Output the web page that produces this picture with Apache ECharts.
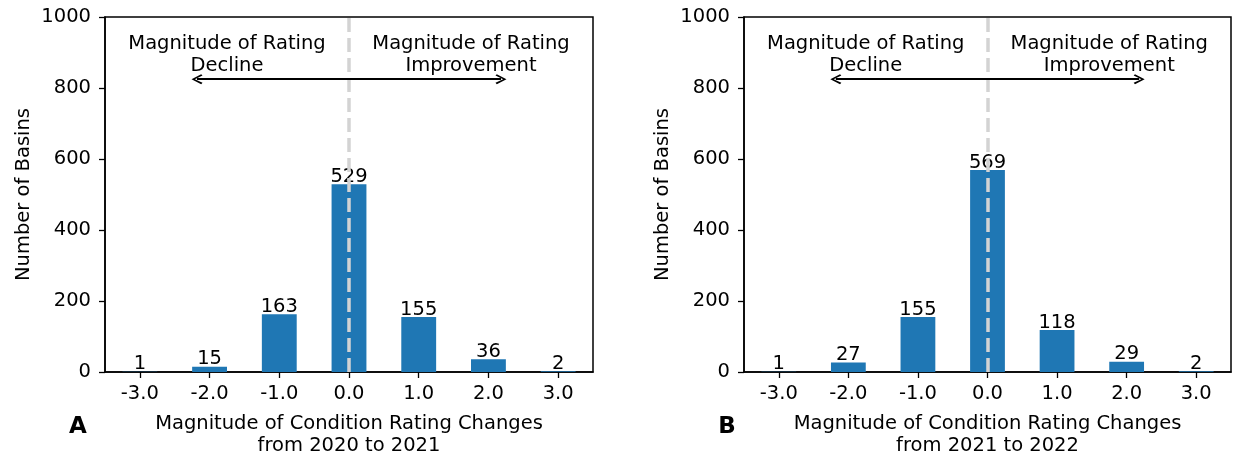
<!DOCTYPE html>
<html>
<head>
<meta charset="utf-8">
<script src="https://cdn.jsdelivr.net/npm/echarts@6/dist/echarts.min.js"></script>
<style>
  html, body { margin: 0; padding: 0; background: #fff; }
  #chart { width: 1235px; height: 458px; }
</style>
</head>
<body>
<div id="chart"></div>
<script>
// Rating-change magnitudes (x positions) and basin counts per year pair
const changes = [-3, -2, -1, 0, 1, 2, 3];
const counts2020to2021 = [1, 15, 163, 529, 155, 36, 2];
const counts2021to2022 = [1, 27, 155, 569, 118, 29, 2];
const yTicks = [0, 200, 400, 600, 800, 1000];
const xAxisTitles = [
  'Magnitude of Condition Rating Changes\nfrom 2020 to 2021',
  'Magnitude of Condition Rating Changes\nfrom 2021 to 2022'
];
const panelLetters = ['A', 'B'];
const declineNote = 'Magnitude of Rating\nDecline';
const improveNote = 'Magnitude of Rating\nImprovement';

const FONT = 'DejaVu Sans';
const BLUE = '#1f77b4';

// chevron-style open arrowhead, tip pointing up (ECharts rotates it along the line)
const OPEN_HEAD = 'path://M5,0 L10,8.8 L8.6,10 L5,3 L1.4,10 L0,8.8 Z';

// annotation placement in data units
const arrowY = 825;
const arrowHalf = 2.18;
const noteX = 1.75;
const noteY = 893;

const chart = echarts.init(document.getElementById('chart'), null, { renderer: 'canvas' });

function panelSeries(idx, counts) {
  return {
    type: 'bar',
    xAxisIndex: idx,
    yAxisIndex: idx,
    data: changes.map((c, i) => [c, counts[i]]),
    barWidth: '50%',
    itemStyle: { color: BLUE },
    label: {
      show: true,
      position: 'top',
      distance: -2,
      color: '#000',
      fontFamily: FONT,
      fontSize: 19.5,
      lineHeight: 19,
      formatter: p => String(p.value[1])
    },
    emphasis: { disabled: true },
    markLine: {
      silent: true,
      symbol: ['none', 'none'],
      label: { show: false },
      animation: false,
      data: [
        {
          xAxis: 0,
          symbol: 'none',
          lineStyle: { color: '#d3d3d3', width: 3.5, type: [14, 6] }
        },
        [
          {
            coord: [-arrowHalf, arrowY],
            symbol: OPEN_HEAD,
            symbolSize: [10, 11],
            lineStyle: { color: '#000', width: 1.8, type: 'solid' }
          },
          {
            coord: [arrowHalf, arrowY],
            symbol: OPEN_HEAD,
            symbolSize: [10, 11]
          }
        ]
      ]
    },
    markPoint: {
      silent: true,
      symbol: 'rect',
      symbolSize: 1,
      itemStyle: { color: 'rgba(0,0,0,0)' },
      animation: false,
      label: {
        show: true,
        position: 'inside',
        color: '#000',
        fontFamily: FONT,
        fontSize: 19.5,
        lineHeight: 22,
        align: 'center'
      },
      data: [
        { coord: [-noteX, noteY], label: { formatter: declineNote } },
        { coord: [noteX, noteY], label: { formatter: improveNote } }
      ]
    }
  };
}

function xAxisFor(idx) {
  return {
    type: 'value',
    gridIndex: idx,
    min: -3.5,
    max: 3.5,
    name: xAxisTitles[idx],
    nameLocation: 'middle',
    nameGap: 41,
    nameTextStyle: { color: '#000', fontFamily: FONT, fontSize: 19.5, lineHeight: 22 },
    axisLine: { show: true, onZero: false, lineStyle: { color: '#000', width: 1.5 } },
    axisTick: { show: true, length: 6, lineStyle: { color: '#000', width: 1.3 }, customValues: changes },
    axisLabel: {
      color: '#000', fontFamily: FONT, fontSize: 19.5, margin: 12,
      customValues: changes,
      formatter: v => Number(v).toFixed(1)
    },
    splitLine: { show: false }
  };
}

function yAxisFor(idx) {
  return {
    type: 'value',
    gridIndex: idx,
    min: 0,
    max: 1000,
    interval: 200,
    name: 'Number of Basins',
    nameLocation: 'middle',
    nameGap: 71,
    nameTextStyle: { color: '#000', fontFamily: FONT, fontSize: 19.5 },
    axisLine: { show: true, onZero: false, lineStyle: { color: '#000', width: 1.5 } },
    axisTick: { show: true, length: 6, lineStyle: { color: '#000', width: 1.3 } },
    axisLabel: {
      color: '#000', fontFamily: FONT, fontSize: 19.5, margin: 14,
      customValues: yTicks,
      formatter: v => String(v)
    },
    splitLine: { show: false }
  };
}

const option = {
  animation: false,
  backgroundColor: '#fff',
  textStyle: { fontFamily: FONT },
  grid: [
    { left: 105, top: 17, width: 488, height: 355, show: true, borderColor: '#000', borderWidth: 1.5, outerBoundsMode: 'none', containLabel: false },
    { left: 744, top: 17, width: 487, height: 355, show: true, borderColor: '#000', borderWidth: 1.5, outerBoundsMode: 'none', containLabel: false }
  ],
  xAxis: [xAxisFor(0), xAxisFor(1)],
  yAxis: [yAxisFor(0), yAxisFor(1)],
  series: [panelSeries(0, counts2020to2021), panelSeries(1, counts2021to2022)],
  graphic: [
    {
      type: 'text', x: 78, y: 427,
      style: { text: panelLetters[0], fontFamily: FONT, fontWeight: 'bold', fontSize: 23, fill: '#000', align: 'center', verticalAlign: 'middle' }
    },
    {
      type: 'text', x: 727, y: 427,
      style: { text: panelLetters[1], fontFamily: FONT, fontWeight: 'bold', fontSize: 23, fill: '#000', align: 'center', verticalAlign: 'middle' }
    }
  ]
};

chart.setOption(option);
</script>
</body>
</html>
